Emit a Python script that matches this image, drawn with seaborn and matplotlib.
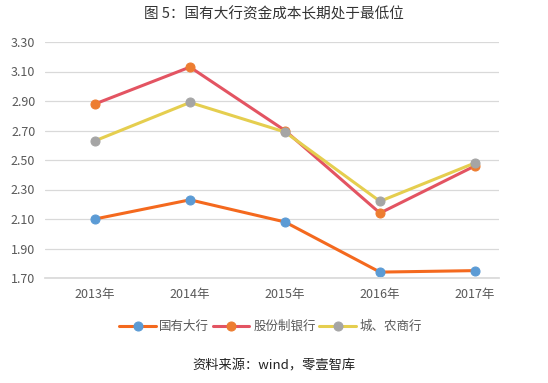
import matplotlib
matplotlib.use("Agg")
import matplotlib.pyplot as plt
import seaborn as sns
import pandas as pd

# data
years = ["2013年", "2014年", "2015年", "2016年", "2017年"]
big_banks = [2.10, 2.23, 2.08, 1.74, 1.75]
joint_stock = [2.88, 3.13, 2.70, 2.14, 2.46]
city_rural = [2.63, 2.89, 2.69, 2.22, 2.48]
series_names = ["国有大行", "股份制银行", "城、农商行"]

line_colors = ["#F4691E", "#E35462", "#E5CE4F"]
marker_colors = ["#5B9BD5", "#ED7D31", "#A5A5A5"]

sns.set_theme(style="white")
plt.rcParams["font.family"] = ["Noto Sans CJK SC", "DejaVu Sans"]

fig = plt.figure(figsize=(5.48, 3.83), dpi=100)
ax = fig.add_axes([45 / 548, 1 - 278 / 383, 454 / 548, 236 / 383])

for name, vals, lc, mc in zip(series_names, [big_banks, joint_stock, city_rural],
                              line_colors, marker_colors):
    df = pd.DataFrame({"year": years, "value": vals})
    sns.lineplot(data=df, x="year", y="value", ax=ax, color=lc, linewidth=2.2,
                 marker="o", markersize=6.5, markerfacecolor=mc,
                 markeredgecolor=mc, label=name)

ax.set_xlim(-0.526, 4.253)
ax.set_ylim(1.70, 3.30)
ax.set_yticks([1.70 + 0.2 * i for i in range(9)])
ax.set_yticklabels([f"{1.70 + 0.2 * i:.2f}" for i in range(9)])
ax.yaxis.grid(True, color="#D9D9D9", linewidth=0.9)
ax.xaxis.grid(False)
for s in ax.spines.values():
    s.set_visible(False)
ax.spines["bottom"].set_visible(True)
ax.spines["bottom"].set_color("#D9D9D9")
ax.tick_params(axis="both", length=0, labelsize=9, colors="#595959", pad=7)
ax.set_xlabel("")
ax.set_ylabel("")

ax.legend(loc="upper center", bbox_to_anchor=(0.497, -0.13), ncol=3, frameon=False,
          fontsize=9, handlelength=2.9, columnspacing=0.3, handletextpad=0.3,
          labelcolor="#595959")

fig.text(0.5, 1 - 14 / 383, "图 5：国有大行资金成本长期处于最低位", ha="center", va="center",
         fontsize=10.5, color="#333333")
fig.text(0.5, 1 - 366 / 383, "资料来源：wind，零壹智库", ha="center", va="center",
         fontsize=9.5, color="#222222")

fig.savefig("out.png", dpi=100)
